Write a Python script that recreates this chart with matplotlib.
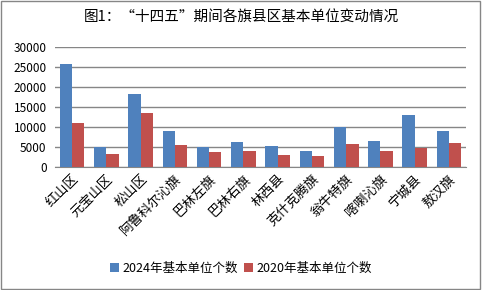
import matplotlib.pyplot as plt
from matplotlib.patches import Rectangle
import numpy as np

plt.rcParams['font.family'] = ['Noto Sans CJK SC', 'DejaVu Sans']

counties = ['红山区', '元宝山区', '松山区', '阿鲁科尔沁旗', '巴林左旗', '巴林右旗',
            '林西县', '克什克腾旗', '翁牛特旗', '喀喇沁旗', '宁城县', '敖汉旗']
units_2024 = [25800, 4900, 18300, 9000, 4900, 6300, 5200, 4000, 10000, 6500, 13000, 9000]
units_2020 = [11000, 3300, 13500, 5500, 3800, 4000, 3000, 2800, 5800, 4000, 4800, 6000]

fig = plt.figure(figsize=(4.82, 2.90), dpi=100)
ax = fig.add_axes([0.114, 0.424, 0.853, 0.414])

x = np.arange(len(counties))
w = 0.36
ax.bar(x - w/2, units_2024, w, color='#4F81BD', label='2024年基本单位个数', zorder=3)
ax.bar(x + w/2, units_2020, w, color='#C0504D', label='2020年基本单位个数', zorder=3)

ax.set_xlim(-0.5, len(counties) - 0.5)
ax.set_ylim(0, 30000)
ax.set_yticks(range(0, 30001, 5000))
ax.yaxis.grid(True, color='#868686', linewidth=1, zorder=0)
for s in ['top', 'right', 'left']:
    ax.spines[s].set_visible(False)
ax.spines['bottom'].set_color('#868686')
ax.tick_params(axis='y', length=0, labelsize=8.5, pad=6)
ax.tick_params(axis='x', length=0, pad=4)
ax.set_xticks(x)
ax.set_xticklabels(counties, rotation=45, ha='right', rotation_mode='anchor', fontsize=9.5)

fig.suptitle('图1：“十四五”期间各旗县区基本单位变动情况', y=0.965, fontsize=10.5)
fig.legend(loc='center', bbox_to_anchor=(0.5, 0.075), ncol=2, frameon=False,
           fontsize=9, handlelength=0.7, handleheight=0.7, columnspacing=0.5,
           handletextpad=0.3)

fig.patches.append(Rectangle((0.002, 0.003), 0.994, 0.994, transform=fig.transFigure,
                             fill=False, edgecolor='#868686', linewidth=1))

fig.savefig('out.png', dpi=100)
